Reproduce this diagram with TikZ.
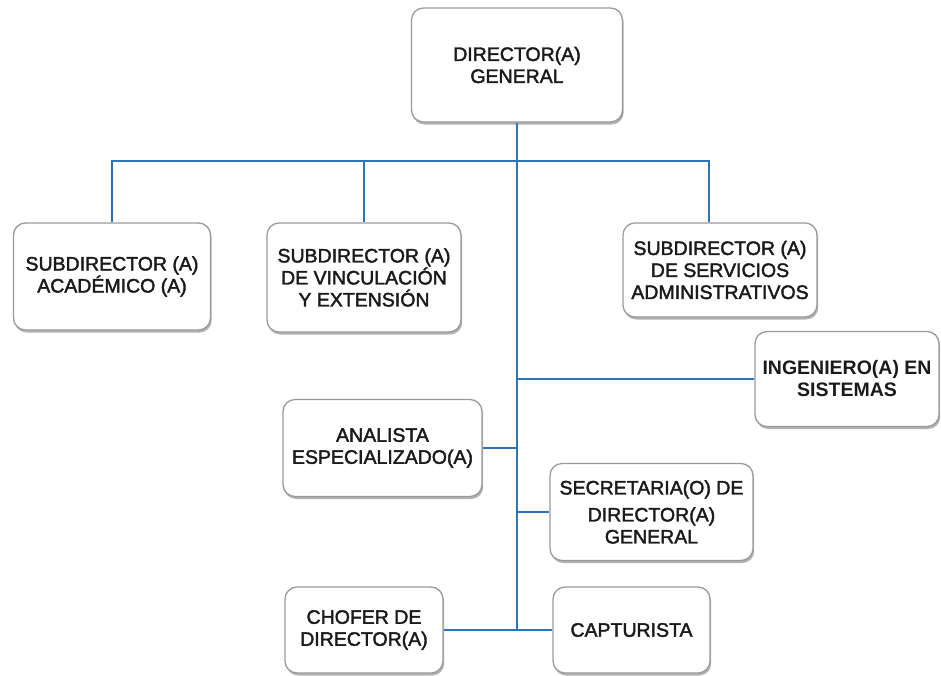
\documentclass[tikz,border=0pt]{standalone}
\usepackage{fontspec}
\setmainfont{Liberation Sans}
\newfontfamily\boxfont{Liberation Sans}[FakeBold=2]
\usetikzlibrary{shadows}

\definecolor{linkblue}{HTML}{2E75B6}
\definecolor{boxgray}{HTML}{9A9A9A}
\definecolor{txt}{HTML}{1A1A1A}

\tikzset{
  box/.style={draw=boxgray, line width=1.3pt, fill=white, rounded corners=12pt,
    align=center, text=txt, font=\boxfont\fontsize{19.5}{22}\selectfont, inner sep=2pt,
    drop shadow={shadow xshift=1.2pt, shadow yshift=-2.5pt, fill=black!55, opacity=.55}},
  link/.style={draw=linkblue, line width=2.2pt}
}

\begin{document}
\begin{tikzpicture}[x=1pt,y=-1pt]
    \useasboundingbox[fill=white] (0,0) rectangle (941,675);

    \coordinate (bus) at (517,161);   % horizontal line under the director
    \coordinate (trunk) at (517,630); % foot of the vertical line

    \node[box, minimum width=211pt, minimum height=114pt] (dir) at (517,65) {DIRECTOR(A)\\GENERAL};
    \node[box, minimum width=197pt, minimum height=107pt] (acad) at (112,276.5) {SUBDIRECTOR (A)\\ACADÉMICO (A)};
    \node[box, minimum width=194pt, minimum height=109pt] (vinc) at (364,277.5) {SUBDIRECTOR (A)\\DE VINCULACIÓN\\Y EXTENSIÓN};
    \node[box, minimum width=194pt, minimum height=94pt] (serv) at (720,270) {SUBDIRECTOR (A)\\DE SERVICIOS\\ADMINISTRATIVOS};
    \node[box, minimum width=184pt, minimum height=95pt, font=\fontsize{19.5}{22}\selectfont\bfseries] (ing) at (847,379) {INGENIERO(A) EN\\SISTEMAS};
    \node[box, minimum width=199pt, minimum height=97pt] (anal) at (382.5,448) {ANALISTA\\ESPECIALIZADO(A)};
    \node[box, minimum width=203pt, minimum height=97pt] (secr) at (651.5,512) {SECRETARIA(O) DE\\[5pt]DIRECTOR(A)\\GENERAL};
    \node[box, minimum width=158pt, minimum height=86pt] (chof) at (364,630) {CHOFER DE\\DIRECTOR(A)};
    \node[box, minimum width=157pt, minimum height=86pt] (capt) at (631.5,630) {CAPTURISTA};

    % first level
    \draw[link] (dir.south) -- (trunk);
    \draw[link] (acad.north) -- (acad.north |- bus) -- ([xshift=-11pt]serv.north |- bus) -- ([xshift=-11pt]serv.north);
    \draw[link] (vinc.north) -- (vinc.north |- bus);

    % staff along the trunk
    \draw[link] (ing.west) -- (ing.west -| trunk);
    \draw[link] (anal.east) -- (anal.east -| trunk);
    \draw[link] (secr.west) -- (secr.west -| trunk);
    \draw[link] (chof.east) -- (capt.west);

\end{tikzpicture}
\end{document}
